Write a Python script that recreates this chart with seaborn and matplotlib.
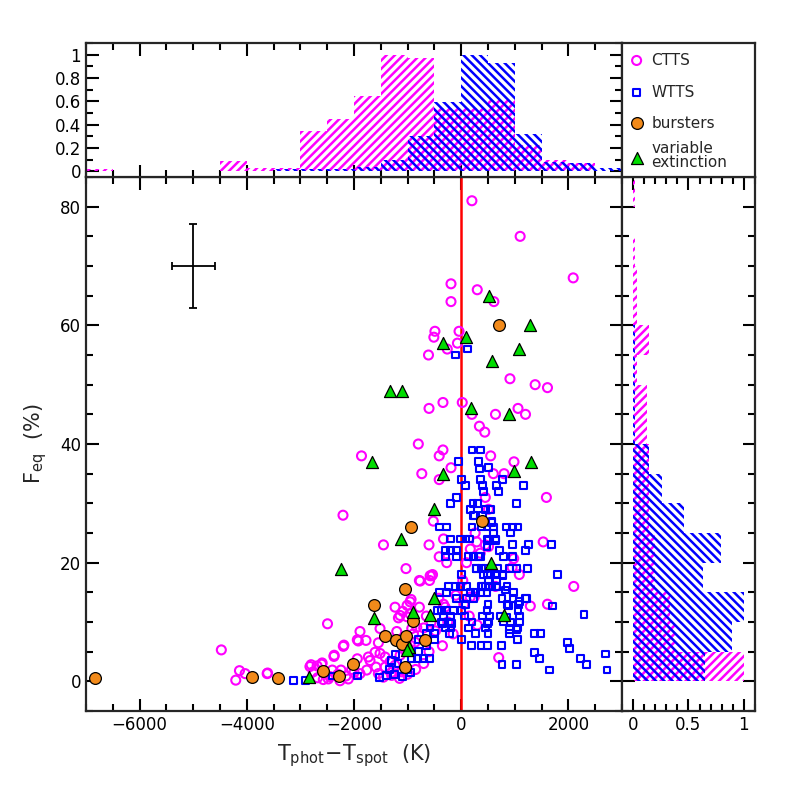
import numpy as np
import matplotlib
matplotlib.use("Agg")
import matplotlib.pyplot as plt
from matplotlib.ticker import MultipleLocator, FixedLocator
import seaborn as sns

# --- data: (T_phot - T_spot [K], F_eq [%]) ---
ctts_dt = [200, 1100, 2090, -190, 300, 610, -190, -490, -510, -40, -70, -260, -610, 910, 1380, 1610,
           -340, -600, 20, 200, 640, 1060, 1200, 340, 440, -800, -340, -410, -1860, -735, -190, -410,
           550, 985, 600, 800, 1590, -2205, -1450, -600, -520, 1530, 2100, 1085, 1290, 1610, -1030,
           -780, -590, -535, -410, -270, 450, 510, -330, 260, 510, 290, 355, 170, 450, 980, 950,
           100, 30, 640, -766, -579, -548, -330, 168, 243, -1140, -953, -953,
           -1234, -1090, -1009, -935, -1171, -1015, -1202, -922, -1514, -1919, -1776, -2199, -2374,
           -1545, -1732, -1607, -1514, -1701, -1589, -1938, -2043, -2243, -2405, -2822, -2604, -2760,
           -3620, -2573, -2479, -2261, -2106, -1888, -1763, -1420, -1327, -1234, -1420, -1140, -1047,
           -953, -860, -891, -829, -1109, -1296, -1545, -1452, -4475, -4137, -4206, -4031, -3612,
           -2800, -2688, -2594, -2494, -2188, -2369, -1938, -1888, -780, -700, -650, -560, -480,
           -420, -300, -250, -150, -100, 50, 150, 300, 700, -350, -600, -700, -850, -1000, -1150,
           -1300, -2680, -2450, -2300, -2150, -2000]
ctts_f = [81, 75, 68, 67, 66, 64, 64, 59, 58, 59, 57, 56, 55, 51, 50, 49.5,
          47, 46, 47, 45, 45, 46, 45, 43, 42, 40, 39, 38, 38, 35, 36, 34,
          38, 37, 35, 35, 31, 28, 23, 23, 27, 23.5, 16, 18, 12.7, 13, 19,
          17, 17, 18, 21, 20, 31, 29, 24, 25, 22.7, 23.5, 21.6, 22.3, 23, 20.7, 19.2,
          20, 17, 16, 16.9, 17.8, 17.8, 13, 14.2, 14.2, 11.1, 13.4, 11.4,
          12.5, 11.8, 12.8, 13.8, 10.7, 10.9, 8.4, 8.9, 8.9, 6.8, 6.9, 5.9, 4.2,
          6.5, 4.1, 4.9, 4.7, 3.5, 2.4, 3.8, 2.0, 1.9, 1.9, 2.5, 2.9, 1.6,
          1.3, 0.3, 0.4, 0.1, 0.4, 1.3, 1.9, 4.1, 3.3, 2.7, 2.4, 4.4, 5.2,
          6.1, 6.6, 8.0, 9.1, 1.6, 1.0, 1.3, 0.7, 5.3, 1.8, 0.2, 1.3, 1.4,
          2.8, 2.6, 3.1, 9.7, 6.1, 4.4, 7.0, 8.4, 12.5, 9, 11, 10, 8.5,
          14, 12.5, 10, 8, 14.5, 13, 11, 9.5, 4, 6, 5, 3, 2, 1.2, 0.5,
          1.5, 0.6, 0.8, 1.2, 0.9, 1.5]

wtts_dt = [-110, 125, 200, 355, -45, 330, 510, 340, 0, 75, 355, 400, 420, 770, 655, 700, 1160, -80, -205,
           220, 300, 1030, 170, 540, 450, 245, 230, 405, 575, 560, -405, -270, 200, 385, 600, 850,
           950, 1060, 480, 920, 600, -205, -20, 90, 155, 480, 650, 510, 650, 960, 1260, 1680, -300,
           -205, -80, 720, 1200, 480, -300, -80, 140, 230, 325, 790, 960, 355, 275, 460, 685, 900,
           1030, 1230, 290, 385, 12, 420, 540, 780, 1790, 490, 635, 780, 510, 665, -240, -110, -20,
           95, 375, 450, 575, 655, 855, 400, 510, 670, 820, -270, 170, 260, 355, 480, 980, -405, -80,
           95, 230, 760, 965, 1200, 1085, 1215, 75, 500, 855, 1070, 1710, 885, -440, -360, -270, -145,
           10, 480, 1060, 2290, -330, -205, 55, 400, 530, 730, 840, 1090, -360, -205, 200, 510, 790,
           915, 1090, -345, -180, 490, -580, -300, -190, 140, 460, 1050, 900, 1040, -650, -500, -220,
           260, 500, 900, 1370, 1480, -790, -500, 10, 1050, 190, 370, 490, 750, 1980, 2020, 1370,
           1460, 2220, 2340, 2690, 2720, 760, 1030, 1650, -920, -820, -700, -590, -1220, -1180, -1330,
           -1000, -1250, -1530, -1940, -2410, -2900, -3130, -1100, -950, -1400, -800, -650, -1300]
wtts_f = [55, 56, 39, 39, 37, 37, 36, 35.8, 34, 33, 34, 33, 32, 34, 33, 32, 33, 31, 30,
          30, 30, 30, 29, 29, 29, 28, 28, 28, 27, 26.8, 26, 26, 26, 26, 26, 26,
          26, 26, 26, 25, 25, 24, 24, 24, 24, 24, 24, 23.7, 23.7, 23, 23, 23, 22,
          22, 22, 22, 22, 22.7, 21, 21, 21, 21, 21, 21, 21, 21, 19, 19, 19, 19,
          19, 19, 19, 19, 18, 18, 18, 18, 18, 18, 18, 17.8, 17, 17, 16, 16, 16,
          16, 16, 16, 16, 16, 16, 16, 16, 16, 15.4, 15, 15, 15, 15, 15, 15, 15, 14,
          14, 14, 14, 14, 14, 13.5, 13.9, 13, 13, 13, 13, 12.7, 12.8, 12, 12, 12, 12,
          12, 12, 12, 11.3, 11, 11, 11, 11, 11, 11, 10.8, 11, 10, 10, 10, 10, 10,
          10, 10, 9.8, 9.8, 9.8, 9, 9, 9, 9, 9, 9, 8.7, 8.7, 8, 8, 8,
          8, 8, 8, 8, 8, 7, 7, 7, 7, 6, 6, 6, 6, 6.6, 5.5, 4.9,
          3.8, 3.8, 2.8, 4.6, 1.9, 2.8, 2.8, 1.9, 3.8, 3.8, 3.8, 3.8, 4.5, 3, 2,
          2, 1.2, 0.6, 0.9, 0.9, 0.1, 0.2, 0.8, 1.5, 1.0, 5, 6, 3.5]

burst_dt = [-6830, -3900, -3420, -2570, -2275, -2020, -1625, -1420, -1220, -1110, -1030, -1045,
            -930, -890, -675, -1045, 390, 700]
burst_f = [0.6, 0.7, 0.6, 1.7, 0.9, 3.0, 12.9, 7.6, 7.0, 6.3, 7.6, 15.5, 26, 10.2, 6.9, 2.4, 27, 60]

vext_dt = [520, 1290, 95, -340, 1080, 570, -1320, -1110, 180, 890, -1660, -340, 985, 1310, -500,
           -1130, -2250, 560, -500, -890, -1630, -580, 800, -970, -1020, -2840]
vext_f = [65, 60, 58, 57, 56, 54, 49, 49, 46, 45, 37, 35, 35.4, 37, 29, 24, 19, 20, 14, 11.7,
          10.7, 11.1, 11.1, 5.8, 5.2, 0.8]

# normalised histograms (peak = 1)
dt_edges = np.arange(-7000, 3001, 500)
ctts_dt_hist = [0.02, 0, 0, 0, 0, 0.09, 0.03, 0.03, 0.345, 0.45, 0.645, 1.0, 0.97, 0.54,
                0.54, 0.61, 0.225, 0.10, 0.07, 0]
wtts_dt_hist = [0, 0, 0, 0, 0, 0, 0, 0.02, 0.02, 0.02, 0.04, 0.10, 0.30, 0.59, 1.0, 0.93,
                0.315, 0.075, 0.07, 0.03]
f_edges = np.arange(0, 86, 5)
ctts_f_hist = [1.0, 0.38, 0.33, 0.2, 0.2, 0.14, 0.14, 0.14, 0.13, 0.13, 0.04, 0.14, 0.04,
               0.04, 0.02, 0, 0.02]
wtts_f_hist = [0.65, 0.89, 1.0, 0.63, 0.79, 0.46, 0.26, 0.14, 0.02, 0.02, 0.02, 0.02, 0, 0,
               0, 0, 0]

MAG, BLU, ORA, GRN = "#ff00ff", "#0000ff", "#f28a1a", "#00dd00"

sns.set_style("ticks")
plt.rcParams["font.family"] = ["DejaVu Sans"]
plt.rcParams["hatch.linewidth"] = 1.8
plt.rcParams["axes.linewidth"] = 1.6

fig = plt.figure(figsize=(7.97, 7.97), dpi=100)
ax = fig.add_axes([0.1079, 0.1079, 0.6725, 0.6700])
axt = fig.add_axes([0.1079, 0.7779, 0.6725, 0.1681])
axr = fig.add_axes([0.7804, 0.1079, 0.1669, 0.6700])
axl = fig.add_axes([0.7804, 0.7779, 0.1669, 0.1681])


def style_ticks(a):
    a.tick_params(which="both", direction="in", top=True, right=True, width=1.5,
                  labelsize=12, colors="black")
    a.tick_params(which="major", length=9)
    a.tick_params(which="minor", length=5)


# main scatter
ax.axvline(0, color="red", lw=1.8, zorder=1)
ax.errorbar([-5000], [70], xerr=[[400], [400]], yerr=[[7], [7]], fmt="none", ecolor="black",
            elinewidth=1.3, capsize=3, capthick=1.3)
sns.scatterplot(x=ctts_dt, y=ctts_f, ax=ax, marker="o", s=42, facecolor="none",
                edgecolor=MAG, linewidth=1.5, zorder=3)
sns.scatterplot(x=wtts_dt, y=wtts_f, ax=ax, marker="s", s=24, facecolor="none",
                edgecolor=BLU, linewidth=1.5, zorder=4)
sns.scatterplot(x=burst_dt, y=burst_f, ax=ax, marker="o", s=72, color=ORA,
                edgecolor="black", linewidth=0.9, zorder=5)
sns.scatterplot(x=vext_dt, y=vext_f, ax=ax, marker="^", s=75, color=GRN,
                edgecolor="black", linewidth=0.9, zorder=6)
ax.set_xlim(-7000, 3000)
ax.set_ylim(-5, 85)
ax.xaxis.set_major_locator(MultipleLocator(2000))
ax.xaxis.set_minor_locator(MultipleLocator(500))
ax.yaxis.set_major_locator(MultipleLocator(20))
ax.yaxis.set_minor_locator(MultipleLocator(5))
style_ticks(ax)
ax.set_xlabel(r"$\mathregular{T_{phot}\!-\!T_{spot}}$  (K)", fontsize=15, labelpad=6)
ax.set_ylabel(r"$\mathregular{F_{eq}}$  (%)", fontsize=15, labelpad=8)

# top histogram
centers = (dt_edges[:-1] + dt_edges[1:]) / 2
axt.bar(centers, ctts_dt_hist, width=500, fill=False, hatch="////", edgecolor=MAG, lw=0)
axt.bar(centers, wtts_dt_hist, width=500, fill=False, hatch="\\\\\\\\", edgecolor=BLU, lw=0)
axt.set_xlim(-7000, 3000)
axt.set_ylim(-0.05, 1.1)
axt.xaxis.set_major_locator(MultipleLocator(2000))
axt.xaxis.set_minor_locator(MultipleLocator(500))
axt.yaxis.set_major_locator(FixedLocator([0, 0.2, 0.4, 0.6, 0.8, 1]))
axt.yaxis.set_minor_locator(MultipleLocator(0.1))
axt.set_yticklabels(["0", "0.2", "0.4", "0.6", "0.8", "1"])
style_ticks(axt)
axt.tick_params(labelbottom=False)

# right histogram
fcent = (f_edges[:-1] + f_edges[1:]) / 2
axr.barh(fcent, ctts_f_hist, height=5, fill=False, hatch="////", edgecolor=MAG, lw=0)
axr.barh(fcent, wtts_f_hist, height=5, fill=False, hatch="\\\\\\\\", edgecolor=BLU, lw=0)
axr.set_ylim(-5, 85)
axr.set_xlim(-0.1, 1.1)
axr.xaxis.set_major_locator(FixedLocator([0, 0.5, 1]))
axr.xaxis.set_minor_locator(MultipleLocator(0.1))
axr.set_xticklabels(["0", "0.5", "1"])
axr.yaxis.set_major_locator(MultipleLocator(20))
axr.yaxis.set_minor_locator(MultipleLocator(5))
style_ticks(axr)
axr.tick_params(labelleft=False)

# legend panel
axl.set_xlim(0, 1)
axl.set_ylim(0, 1)
axl.set_xticks([])
axl.set_yticks([])
leg_y = [0.87, 0.63, 0.40, 0.16]
axl.scatter([0.11], [leg_y[0]], marker="o", s=42, facecolor="none", edgecolor=MAG, lw=1.5)
axl.scatter([0.11], [leg_y[1]], marker="s", s=24, facecolor="none", edgecolor=BLU, lw=1.5)
axl.scatter([0.11], [leg_y[2]], marker="o", s=72, color=ORA, edgecolor="black", lw=0.9)
axl.scatter([0.11], [leg_y[3] - 0.02], marker="^", s=75, color=GRN, edgecolor="black", lw=0.9)
for yy, txt in zip(leg_y, ["CTTS", "WTTS", "bursters", "variable\nextinction"]):
    axl.text(0.22, yy, txt, fontsize=11, va="center", ha="left", linespacing=0.95)

fig.savefig("out.png", dpi=100)
